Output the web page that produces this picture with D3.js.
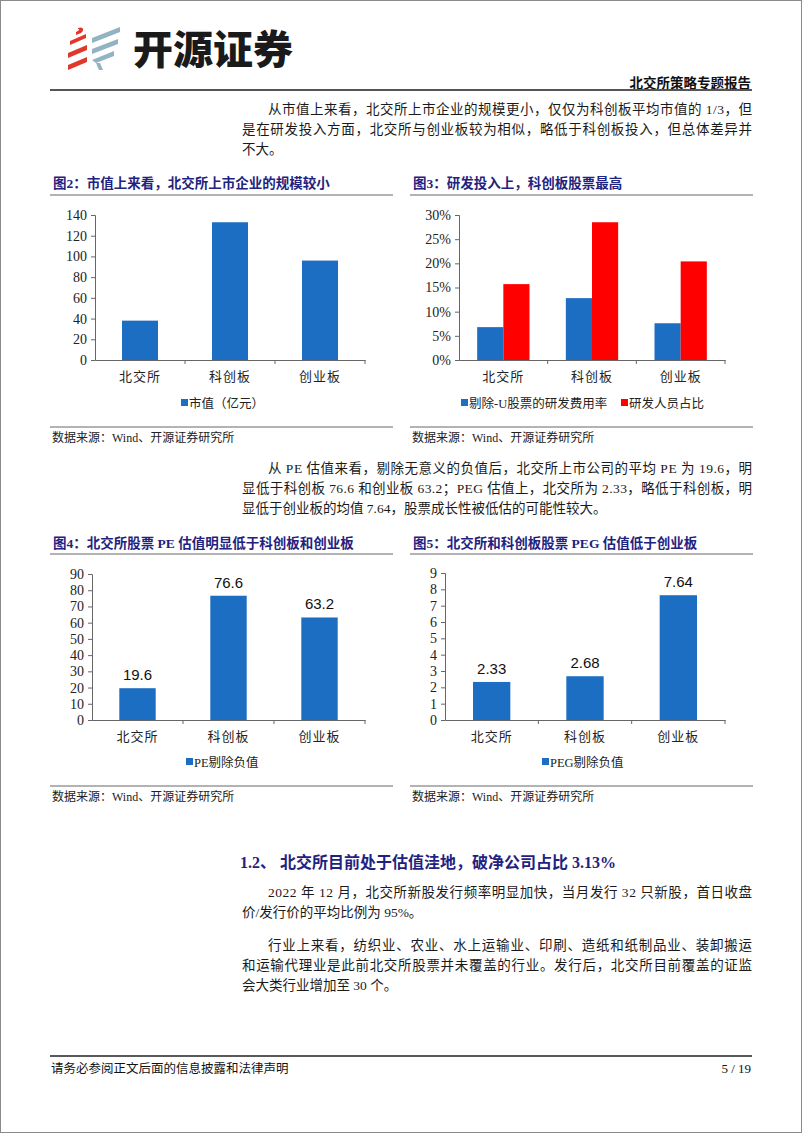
<!DOCTYPE html>
<html>
<head>
<meta charset="utf-8">
<script src="https://cdn.jsdelivr.net/npm/d3@7"></script>
<style>
body { margin: 0; background: #fff; }
svg { display: block; }
</style>
</head>
<body>
<svg id="page" width="802" height="1133"></svg>
<script>
// categories and values
var boards = ["北交所", "科创板", "创业板"];
var marketCap = [38, 133, 96];          // 市值（亿元）
var rdExpense = [0.068, 0.128, 0.076];  // 剔除-U股票的研发费用率
var rdStaff = [0.157, 0.285, 0.204];    // 研发人员占比
var peValues = [19.6, 76.6, 63.2];      // PE剔除负值
var pegValues = [2.33, 2.68, 7.64];     // PEG剔除负值

var BLUE = "#1b6ec2", RED = "#ff0000", NAVY = "#1f237f";
var SERIF = "'Liberation Serif','Noto Sans CJK SC',serif";
var SANS = "'Liberation Sans','Noto Sans CJK SC',sans-serif";

var svg = d3.select("#page");
svg.append("rect").attr("x", 0.5).attr("y", 0.5).attr("width", 801).attr("height", 1132)
    .attr("fill", "#fff").attr("stroke", "#8a8a8a");

// ---------- header ----------
function logo() {
    var g = svg.append("g");
    // red stripes
    var red = [
        [[70,41],[86,34],[86,38],[70,45]],
        [[68,53],[87,45],[87,50],[68,58]],
        [[68,65],[87,57],[87,62],[68,70]]
    ];
    red.forEach(function (p) {
        g.append("polygon").attr("points", p.join(" ")).attr("fill", "#e0392b");
    });
    g.append("path").attr("d", "M78,28 C83,26 85,30 81,33 L76,35 L76,32 C79,31 80,29 78,29 Z").attr("fill", "#e0392b");
    // grey-blue stripes
    var blue = [
        [[92,38],[120,27],[120,32],[92,43]],
        [[92,49],[118,39],[118,44],[92,54]],
        [[92,60],[114,51],[114,56],[96,63]]
    ];
    blue.forEach(function (p) {
        g.append("polygon").attr("points", p.join(" ")).attr("fill", "#93b3c3");
    });
    g.append("path").attr("d", "M96,63 L100,63 L103,70 L99,70 Z").attr("fill", "#93b3c3");
    g.append("text").attr("x", 133).attr("y", 64)
        .attr("font-family", "'Noto Sans CJK SC',sans-serif").attr("font-weight", 900)
        .attr("font-size", 40).attr("fill", "#1a1a1a").text("开源证券");
}
logo();

svg.append("text").attr("x", 751).attr("y", 88).attr("text-anchor", "end")
    .attr("font-family", SERIF).attr("font-weight", "bold").attr("font-size", 13.5)
    .attr("fill", "#111").text("北交所策略专题报告");
svg.append("line").attr("x1", 50).attr("x2", 752).attr("y1", 90).attr("y2", 90)
    .attr("stroke", "#555").attr("stroke-width", 2);

// ---------- body text ----------
function para(lines, y0, lh) {
    lines.forEach(function (l, i) {
        var t = svg.append("text").attr("x", l.x).attr("y", y0 + i * lh)
            .attr("font-family", SERIF).attr("font-size", 13.5).attr("fill", "#1a1a1a")
            .text(l.s);
        if (l.just) t.attr("textLength", 752 - l.x).attr("lengthAdjust", "spacing");
    });
}

para([
    { x: 268, s: "从市值上来看，北交所上市企业的规模更小，仅仅为科创板平均市值的 1/3，但", just: true },
    { x: 242, s: "是在研发投入方面，北交所与创业板较为相似，略低于科创板投入，但总体差异并", just: true },
    { x: 242, s: "不大。" }
], 114, 20);

para([
    { x: 268, s: "从 PE 估值来看，剔除无意义的负值后，北交所上市公司的平均 PE 为 19.6，明", just: true },
    { x: 242, s: "显低于科创板 76.6 和创业板 63.2；PEG 估值上，北交所为 2.33，略低于科创板，明", just: true },
    { x: 242, s: "显低于创业板的均值 7.64，股票成长性被低估的可能性较大。" }
], 473, 20);

svg.append("text").attr("x", 240).attr("y", 868)
    .attr("font-family", SERIF).attr("font-weight", "bold").attr("font-size", 16)
    .attr("fill", NAVY).text("1.2、 北交所目前处于估值洼地，破净公司占比 3.13%");

para([
    { x: 268, s: "2022 年 12 月，北交所新股发行频率明显加快，当月发行 32 只新股，首日收盘", just: true },
    { x: 242, s: "价/发行价的平均比例为 95%。" }
], 897, 20);
para([
    { x: 268, s: "行业上来看，纺织业、农业、水上运输业、印刷、造纸和纸制品业、装卸搬运", just: true },
    { x: 242, s: "和运输代理业是此前北交所股票并未覆盖的行业。发行后，北交所目前覆盖的证监", just: true },
    { x: 242, s: "会大类行业增加至 30 个。" }
], 950, 20);

// footer
svg.append("line").attr("x1", 50).attr("x2", 752).attr("y1", 1056).attr("y2", 1056)
    .attr("stroke", "#222").attr("stroke-width", 1.5);
svg.append("text").attr("x", 51).attr("y", 1073).attr("font-family", SERIF)
    .attr("font-size", 12.5).attr("fill", "#111").text("请务必参阅正文后面的信息披露和法律声明");
svg.append("text").attr("x", 751).attr("y", 1073).attr("text-anchor", "end").attr("font-family", SERIF)
    .attr("font-size", 13).attr("fill", "#111").text("5 / 19");

// ---------- chart frame: title, rules, source ----------
function frame(x0, x1, titleY, ruleY, srcRuleY, title) {
    svg.append("text").attr("x", x0 + 3).attr("y", titleY)
        .attr("font-family", SERIF).attr("font-weight", "bold").attr("font-size", 13.5)
        .attr("fill", NAVY).text(title);
    svg.append("line").attr("x1", x0).attr("x2", x1).attr("y1", ruleY).attr("y2", ruleY)
        .attr("stroke", "#9a9a9a").attr("stroke-width", 1.5);
    svg.append("line").attr("x1", x0).attr("x2", x1).attr("y1", srcRuleY).attr("y2", srcRuleY)
        .attr("stroke", "#9a9a9a").attr("stroke-width", 1.5);
    svg.append("text").attr("x", x0 + 2).attr("y", srcRuleY + 15)
        .attr("font-family", SERIF).attr("font-size", 12).attr("fill", "#222")
        .text("数据来源：Wind、开源证券研究所");
}

frame(50, 393, 188, 195, 427, "图2：市值上来看，北交所上市企业的规模较小");
frame(410, 753, 188, 195, 427, "图3：研发投入上，科创板股票最高");
frame(50, 393, 548, 554, 786, "图4：北交所股票 PE 估值明显低于科创板和创业板");
frame(410, 753, 548, 554, 786, "图5：北交所和科创板股票 PEG 估值低于创业板");

// ---------- axes helper ----------
function drawAxes(o, x, y, ticks, fmt) {
    var g = svg.append("g");
    var yAxis = d3.axisLeft(y).tickValues(ticks).tickSize(4).tickPadding(4).tickFormat(fmt);
    g.append("g").attr("transform", "translate(" + o.left + ",0)").call(yAxis)
        .call(function (s) {
            s.select(".domain").attr("stroke", "#666");
            s.selectAll(".tick line").attr("stroke", "#666");
            s.selectAll("text").attr("font-family", SERIF).attr("font-size", 14).attr("fill", "#222");
        });
    var xAxis = d3.axisBottom(x).tickSize(0).tickPadding(12);
    g.append("g").attr("transform", "translate(0," + o.bottom + ")").call(xAxis)
        .call(function (s) {
            s.select(".domain").attr("stroke", "#666");
            s.selectAll("text").attr("font-family", SERIF).attr("font-size", 13)
                .attr("letter-spacing", 1).attr("fill", "#222");
        });
    // boundary ticks between categories
    var bounds = x.domain().map(function (d) { return x(d) - x.step() * x.paddingInner() / 2; });
    bounds.push(o.right);
    bounds.shift();
    g.selectAll(".btick").data(bounds).enter().append("line")
        .attr("x1", function (d) { return d; }).attr("x2", function (d) { return d; })
        .attr("y1", o.bottom).attr("y2", o.bottom + 4).attr("stroke", "#666");
    return g;
}

function legend(items, y) {
    items.forEach(function (it) {
        svg.append("rect").attr("x", it.x).attr("y", y - 4).attr("width", 7).attr("height", 7)
            .attr("fill", it.color);
        svg.append("text").attr("x", it.x + 8).attr("y", y + 4.5)
            .attr("font-family", SERIF).attr("font-size", 12.5).attr("fill", "#222").text(it.label);
    });
}

// ---------- simple bar chart ----------
function barChart(o, values, ymax, step, labels, legendItem) {
    var x = d3.scaleBand().domain(boards).range([o.left, o.right])
        .paddingInner(0.6).paddingOuter(0.3);
    var y = d3.scaleLinear().domain([0, ymax]).range([o.bottom, o.top]);
    drawAxes(o, x, y, d3.range(0, ymax + step / 2, step), d3.format("d"));
    svg.selectAll(null).data(values).enter().append("rect")
        .attr("x", function (d, i) { return x(boards[i]); })
        .attr("y", function (d) { return y(d); })
        .attr("width", x.bandwidth())
        .attr("height", function (d) { return o.bottom - y(d); })
        .attr("fill", BLUE);
    if (labels) {
        svg.selectAll(null).data(values).enter().append("text")
            .attr("x", function (d, i) { return x(boards[i]) + x.bandwidth() / 2; })
            .attr("y", function (d) { return y(d) - 8; })
            .attr("text-anchor", "middle").attr("font-family", SANS).attr("font-size", 15)
            .attr("fill", "#111").text(function (d) { return d; });
    }
    legend([legendItem], o.legendY);
}

barChart({ left: 95, right: 365, top: 215, bottom: 360, legendY: 403 },
    marketCap, 140, 20, false, { x: 181, color: BLUE, label: "市值（亿元）" });

barChart({ left: 92, right: 365, top: 574, bottom: 720, legendY: 762 },
    peValues, 90, 10, true, { x: 186, color: BLUE, label: "PE剔除负值" });

barChart({ left: 445, right: 725, top: 573, bottom: 720, legendY: 762 },
    pegValues, 9, 1, true, { x: 542, color: BLUE, label: "PEG剔除负值" });

// ---------- grouped chart (图3) ----------
(function () {
    var o = { left: 459, right: 725, top: 215, bottom: 360 };
    var x = d3.scaleBand().domain(boards).range([o.left, o.right])
        .paddingInner(0.41).paddingOuter(0.205);
    var sub = d3.scaleBand().domain(["rd", "staff"]).range([0, x.bandwidth()]);
    var y = d3.scaleLinear().domain([0, 0.30]).range([o.bottom, o.top]);
    drawAxes(o, x, y, d3.range(0, 0.301, 0.05), d3.format(".0%"));
    var series = [
        { key: "rd", values: rdExpense, color: BLUE },
        { key: "staff", values: rdStaff, color: RED }
    ];
    series.forEach(function (s) {
        svg.selectAll(null).data(s.values).enter().append("rect")
            .attr("x", function (d, i) { return x(boards[i]) + sub(s.key); })
            .attr("y", function (d) { return y(d); })
            .attr("width", sub.bandwidth())
            .attr("height", function (d) { return o.bottom - y(d); })
            .attr("fill", s.color);
    });
    legend([
        { x: 461, color: BLUE, label: "剔除-U股票的研发费用率" },
        { x: 621, color: RED, label: "研发人员占比" }
    ], 403);
})();
</script>
</body>
</html>
